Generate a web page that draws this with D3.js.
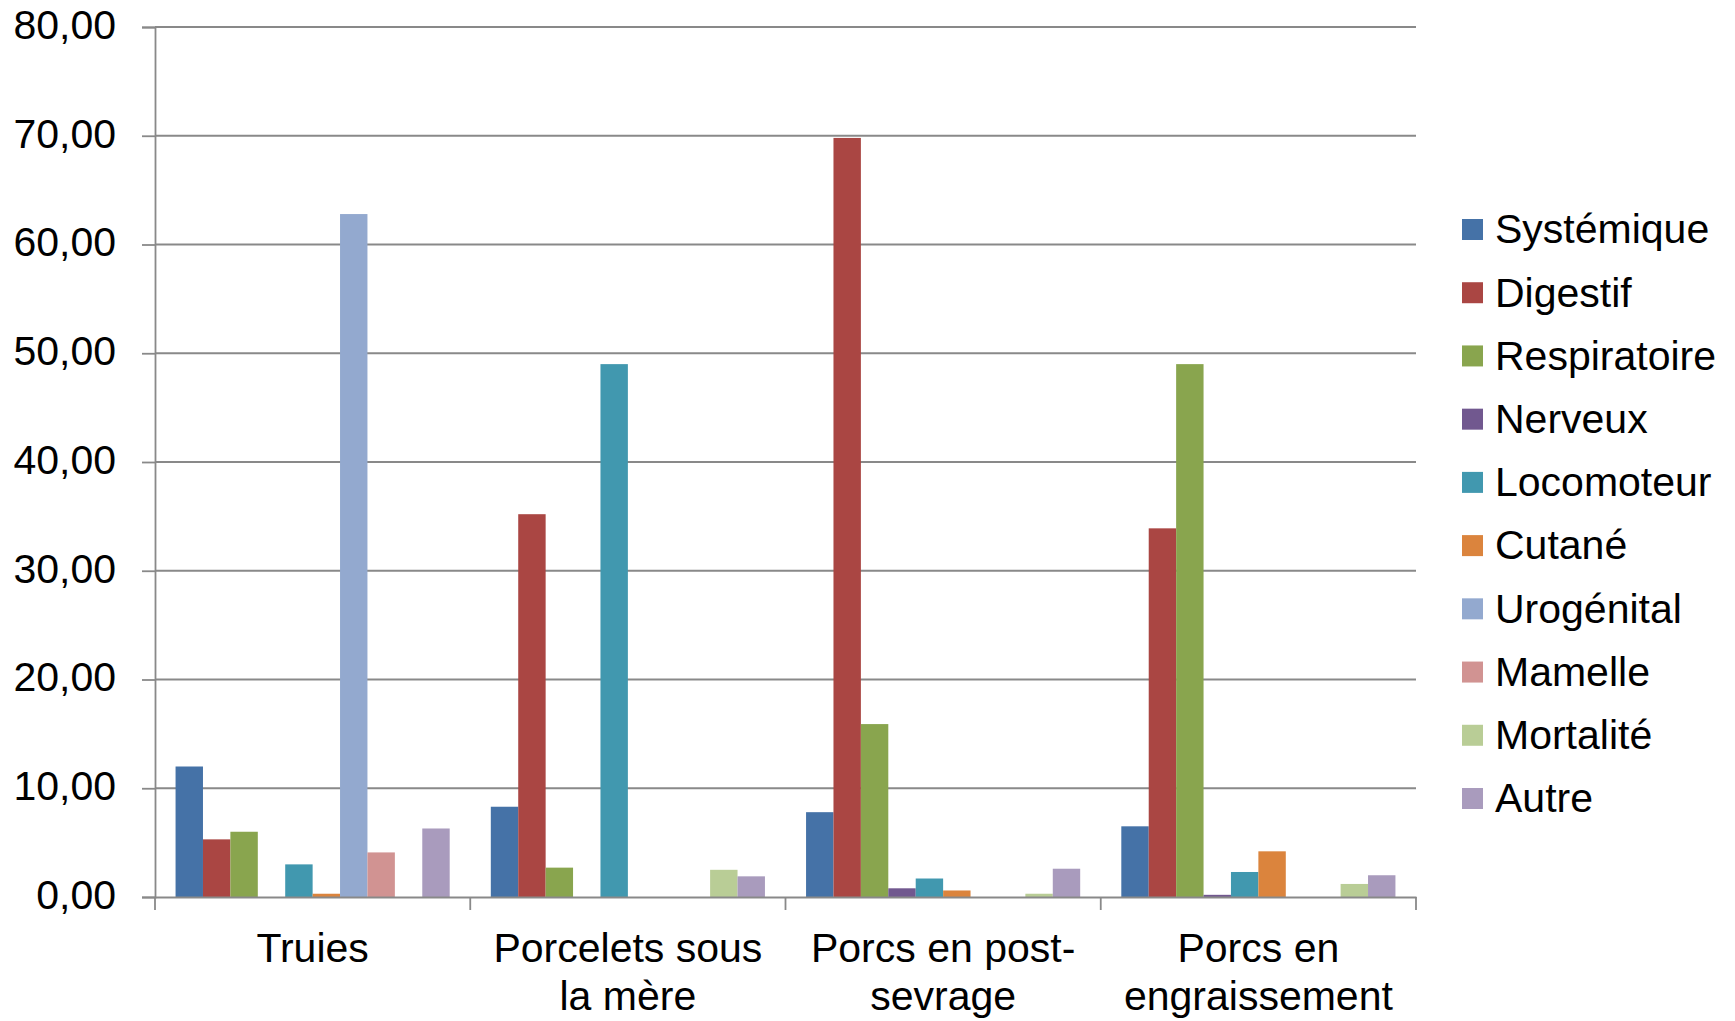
<!DOCTYPE html>
<html>
<head>
<meta charset="utf-8">
<script src="https://cdn.jsdelivr.net/npm/d3@7"></script>
<style>
  body { margin: 0; background: #fff; }
  svg { display: block; font-family: "Liberation Sans", Arial, sans-serif; }
</style>
</head>
<body>
<svg id="chart" width="1735" height="1021"></svg>
<script>
const categories = ["Truies", "Porcelets sous la mère", "Porcs en post-sevrage", "Porcs en engraissement"];
const categoryLines = [["Truies"], ["Porcelets sous", "la mère"], ["Porcs en post-", "sevrage"], ["Porcs en", "engraissement"]];
const seriesNames = ["Systémique", "Digestif", "Respiratoire", "Nerveux", "Locomoteur", "Cutané", "Urogénital", "Mamelle", "Mortalité", "Autre"];
const seriesColors = ["#4572A7", "#AA4643", "#89A54E", "#71588F", "#4198AF", "#DB843D", "#93A9CF", "#D19392", "#B9CD96", "#A99BBD"];
const systemique = [12.0, 8.3, 7.8, 6.5];
const digestif = [5.3, 35.2, 69.8, 33.9];
const respiratoire = [6.0, 2.7, 15.9, 49.0];
const nerveux = [0, 0, 0.8, 0.2];
const locomoteur = [3.0, 49.0, 1.7, 2.3];
const cutane = [0.3, 0, 0.6, 4.2];
const urogenital = [62.8, 0, 0, 0];
const mamelle = [4.1, 0, 0, 0];
const mortalite = [0, 2.5, 0.3, 1.2];
const autre = [6.3, 1.9, 2.6, 2.0];
const yTicks = [0, 10, 20, 30, 40, 50, 60, 70, 80];

const seriesValues = [systemique, digestif, respiratoire, nerveux, locomoteur, cutane, urogenital, mamelle, mortalite, autre];

const svg = d3.select("#chart");
const plotLeft = 155, plotRight = 1416, plotTop = 27, plotBottom = 897;
const gridColor = "#898989";

const x0 = d3.scaleBand().domain(categories).range([plotLeft, plotRight]).paddingInner(0).paddingOuter(0);
const x1 = d3.scaleBand().domain(seriesNames).range([0, x0.bandwidth()]).paddingInner(0).paddingOuter(0.75);
const y = d3.scaleLinear().domain([0, 80]).range([plotBottom, plotTop]);
const color = d3.scaleOrdinal().domain(seriesNames).range(seriesColors);
const fmt = v => d3.format(".2f")(v).replace(".", ",");

// y axis
const yAxis = d3.axisLeft(y).tickValues(yTicks).tickFormat(fmt).tickSize(13).tickPadding(26);
const gy = svg.append("g").attr("transform", `translate(${plotLeft},0)`).call(yAxis);
gy.select(".domain").attr("stroke", gridColor).attr("stroke-width", 1.8);
gy.selectAll(".tick line").attr("stroke", gridColor).attr("stroke-width", 1.8);
gy.selectAll(".tick text").attr("font-size", 41).attr("fill", "#000").attr("dy", "0.28em")
  .attr("font-family", '"Liberation Sans", Arial, sans-serif');

// gridlines
svg.append("g").selectAll("line").data(yTicks.filter(d => d > 0)).join("line")
  .attr("x1", plotLeft).attr("x2", plotRight)
  .attr("y1", d => y(d)).attr("y2", d => y(d))
  .attr("stroke", gridColor).attr("stroke-width", 1.8);

// bars
const groups = svg.append("g").selectAll("g").data(categories).join("g")
  .attr("transform", d => `translate(${x0(d)},0)`);
groups.selectAll("rect")
  .data((c, i) => seriesNames.map((s, j) => ({ s, v: seriesValues[j][i] })))
  .join("rect")
  .attr("x", d => x1(d.s))
  .attr("width", x1.bandwidth())
  .attr("y", d => y(d.v))
  .attr("height", d => y(0) - y(d.v))
  .attr("fill", d => color(d.s));

// x axis
const xAxis = d3.axisBottom(x0).tickSize(0).tickFormat("");
const gx = svg.append("g").attr("transform", `translate(0,${plotBottom})`).call(xAxis);
gx.select(".domain").attr("stroke", gridColor).attr("stroke-width", 1.8);
const boundaries = categories.map(c => x0(c)).concat([plotRight]);
gx.selectAll(".bound").data(boundaries).join("line").attr("class", "bound")
  .attr("x1", d => d).attr("x2", d => d).attr("y1", 0).attr("y2", 13)
  .attr("stroke", gridColor).attr("stroke-width", 1.8);

const labels = svg.append("g").selectAll("text").data(categories).join("text")
  .attr("text-anchor", "middle").attr("font-size", 41).attr("fill", "#000")
  .attr("x", d => x0(d) + x0.bandwidth() / 2)
  .attr("y", 962);
labels.selectAll("tspan").data((d, i) => categoryLines[i]).join("tspan")
  .attr("x", function () { return d3.select(this.parentNode).attr("x"); })
  .attr("dy", (d, i) => i === 0 ? 0 : 48)
  .text(d => d);

// legend
const legendY = d3.scalePoint().domain(seriesNames).range([229, 798]);
const lg = svg.append("g").selectAll("g").data(seriesNames).join("g")
  .attr("transform", d => `translate(1462,${legendY(d)})`);
lg.append("rect").attr("x", 0).attr("y", -10).attr("width", 21).attr("height", 21)
  .attr("fill", d => color(d));
lg.append("text").attr("x", 33).attr("y", 0).attr("dy", "0.35em")
  .attr("font-size", 41).attr("fill", "#000").text(d => d);
</script>
</body>
</html>
